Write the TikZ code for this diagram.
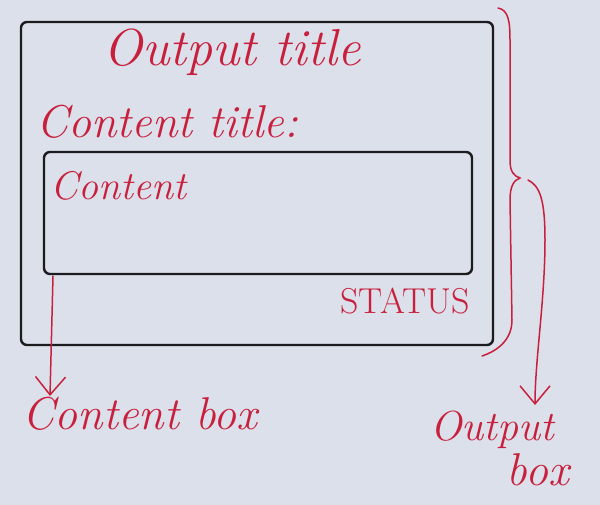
\documentclass[tikz,border=0pt]{standalone}
\usetikzlibrary{arrows.meta}
\definecolor{paper}{HTML}{DCE0EB}
\definecolor{ink}{HTML}{C8203C}
\definecolor{pen}{HTML}{1C1C1E}
\begin{document}
\begin{tikzpicture}[x=1pt,y=-1pt,
  boxline/.style={draw=pen,line width=2.4pt,rounded corners=6pt},
  redtext/.style={text=ink,font=\itshape,inner sep=0pt},
  redline/.style={draw=ink,line width=1.5pt,line cap=round},
  barb/.style={-{Straight Barb[length=18pt,width=30pt,line width=1.5pt]}}]
\fill[paper] (0,0) rectangle (600,505);
\useasboundingbox (0,0) rectangle (600,505);
% boxes
\draw[boxline] (21,22) rectangle (493,345);
\draw[boxline] (44,152) rectangle (472,274);
% texts
\node[redtext,font=\itshape\fontsize{52}{56}\selectfont] (title) at (232,52) {Output title};
\node[redtext,font=\itshape\fontsize{46}{50}\selectfont,anchor=west] (ctitle) at (36,122) {Content title:};
\node[redtext,font=\itshape\fontsize{40}{44}\selectfont,anchor=west] (content) at (50,186) {Content};
\node[redtext,font=\fontsize{36}{40}\selectfont] (status) at (405,301) {STATUS};
\node[redtext,font=\itshape\fontsize{46}{50}\selectfont] (cbox) at (140,414) {Content box};
\node[redtext,font=\itshape\fontsize{42}{46}\selectfont] (obox1) at (492,430) {Output};
\node[redtext,font=\itshape\fontsize{46}{50}\selectfont] (obox2) at (538,470) {box};
% content box arrow
\coordinate (cstart) at (53,276);
\coordinate (cend) at (50,396);
\draw[redline,barb] (cstart) -- (cend);
% brace
\draw[redline] (498,8) .. controls (508,10) and (510,20) .. (510,40)
  -- (510,160) .. controls (510,172) and (514,176) .. (520,178)
  .. controls (514,180) and (510,186) .. (510,200)
  -- (512,320) .. controls (512,338) and (500,350) .. (482,356);
\coordinate (tip) at (528,180);
\coordinate (oend) at (535,405);
\draw[redline,barb] (tip) .. controls (540,186) and (545,200) .. (545,240)
  .. controls (545,300) and (535,360) .. (oend);
\end{tikzpicture}
\end{document}
